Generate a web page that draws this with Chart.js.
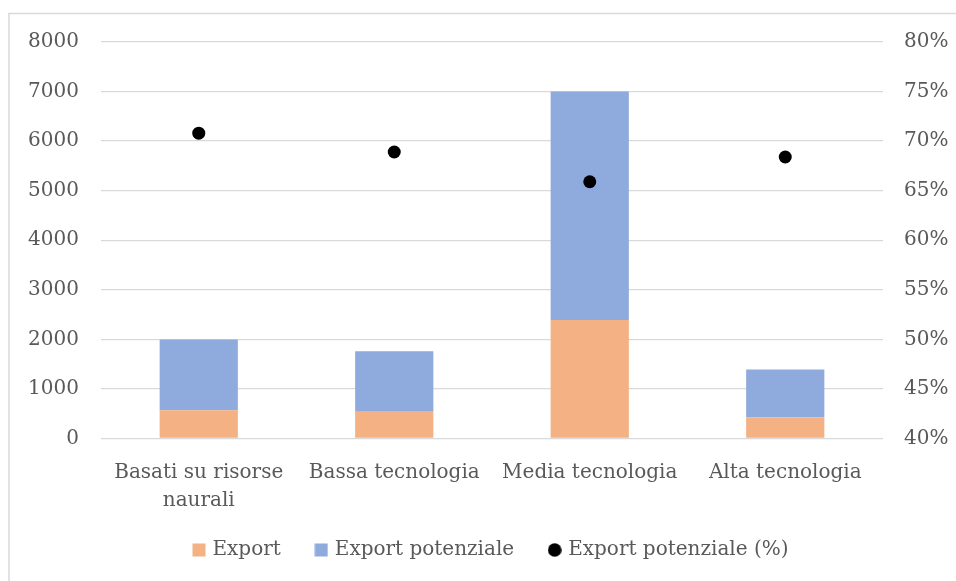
<!DOCTYPE html>
<html>
<head>
<meta charset="utf-8">
<script src="https://cdn.jsdelivr.net/npm/chart.js@4"></script>
<style>
html,body{margin:0;padding:0;background:#fff;}
#c{display:block;}
</style>
</head>
<body>
<canvas id="c" width="956" height="581"></canvas>
<script>
const categories = [["Basati su risorse", "naurali"], "Bassa tecnologia", "Media tecnologia", "Alta tecnologia"];
const exportValues = [570, 540, 2390, 430];
const exportPotenziale = [1430, 1220, 4610, 960];
const exportPotenzialePct = [70.8, 68.9, 65.9, 68.4];
const leftTicks = [0, 1000, 2000, 3000, 4000, 5000, 6000, 7000, 8000];
const rightTicks = [40, 45, 50, 55, 60, 65, 70, 75, 80];

const FONT = "'DejaVu Serif', serif";
const TEXT = '#595959';
const ORANGE = '#F4B183';
const BLUE = '#8FAADC';

function markCanvas(kind, color) {
  const cv = document.createElement('canvas');
  cv.width = 14; cv.height = 14;
  const g = cv.getContext('2d');
  g.fillStyle = color;
  if (kind === 'rect') {
    g.fillRect(0.5, 0.5, 13, 13);
  } else {
    g.beginPath(); g.arc(7, 7, 6.8, 0, Math.PI * 2); g.fill();
  }
  return cv;
}
const legendMarks = [markCanvas('rect', ORANGE), markCanvas('rect', BLUE), markCanvas('circle', '#000')];

const framePlugin = {
  id: 'frame',
  afterLayout(chart) {
    const lg = chart.legend;
    if (lg) { const d = -10.5; lg.top += d; lg.bottom += d; }
  },
  beforeDraw(chart) {
    const ctx = chart.ctx;
    ctx.save();
    ctx.fillStyle = '#fff';
    ctx.fillRect(0, 0, chart.width, chart.height);
    ctx.strokeStyle = '#d9d9d9';
    ctx.lineWidth = 1.5;
    ctx.strokeRect(9, 13.5, 2000, 2000);
    ctx.restore();
  }
};

new Chart(document.getElementById('c'), {
  type: 'bar',
  data: {
    labels: categories,
    datasets: [
      { label: 'Export', data: exportValues, backgroundColor: ORANGE, yAxisID: 'y', stack: 's', order: 1 },
      { label: 'Export potenziale', data: exportPotenziale, backgroundColor: BLUE, yAxisID: 'y', stack: 's', order: 1 },
      { label: 'Export potenziale (%)', type: 'line', data: exportPotenzialePct, showLine: false,
        pointRadius: 6.5, pointHoverRadius: 6.5, pointBackgroundColor: '#000', pointBorderWidth: 0,
        backgroundColor: '#000', borderColor: '#000', yAxisID: 'y1', order: 0 }
    ]
  },
  options: {
    responsive: false,
    animation: false,
    events: [],
    layout: { padding: { top: 42, bottom: 0.5, left: 0, right: 0 } },
    datasets: { bar: { barPercentage: 0.4, categoryPercentage: 1.0 } },
    plugins: {
      tooltip: { enabled: false },
      legend: {
        position: 'bottom',
        fullSize: false,
        labels: {
          usePointStyle: true,
          pointStyleWidth: 7,
          padding: 37,
          color: TEXT,
          font: { family: FONT, size: 20 },
          generateLabels(chart) {
            const items = Chart.defaults.plugins.legend.labels.generateLabels(chart);
            items.sort((a, b) => a.datasetIndex - b.datasetIndex);
            items.forEach(it => { it.pointStyle = legendMarks[it.datasetIndex]; });
            return items;
          }
        }
      }
    },
    scales: {
      x: {
        stacked: true,
        grid: { display: false, drawTicks: false },
        border: { display: false },
        ticks: { color: TEXT, font: { family: FONT, size: 20, lineHeight: 1.4 }, padding: 20.5, maxRotation: 0, autoSkip: false },
        afterFit(s) { s.height = 75; }
      },
      y: {
        position: 'left',
        stacked: true,
        min: 0, max: 8000,
        afterBuildTicks(s) { s.ticks = leftTicks.map(v => ({ value: v })); },
        grid: { color: '#d9d9d9', lineWidth: 1.3, drawTicks: false },
        border: { display: false },
        ticks: { color: TEXT, font: { family: FONT, size: 20 }, padding: 22, callback: v => String(v) },
        afterFit(s) { s.width = 101; }
      },
      y1: {
        position: 'right',
        min: 40, max: 80,
        afterBuildTicks(s) { s.ticks = rightTicks.map(v => ({ value: v })); },
        grid: { display: false, drawTicks: false },
        border: { display: false },
        ticks: { color: TEXT, font: { family: FONT, size: 20 }, padding: 21, callback: v => v + '%' },
        afterFit(s) { s.width = 73; }
      }
    }
  },
  plugins: [framePlugin]
});
</script>
</body>
</html>
